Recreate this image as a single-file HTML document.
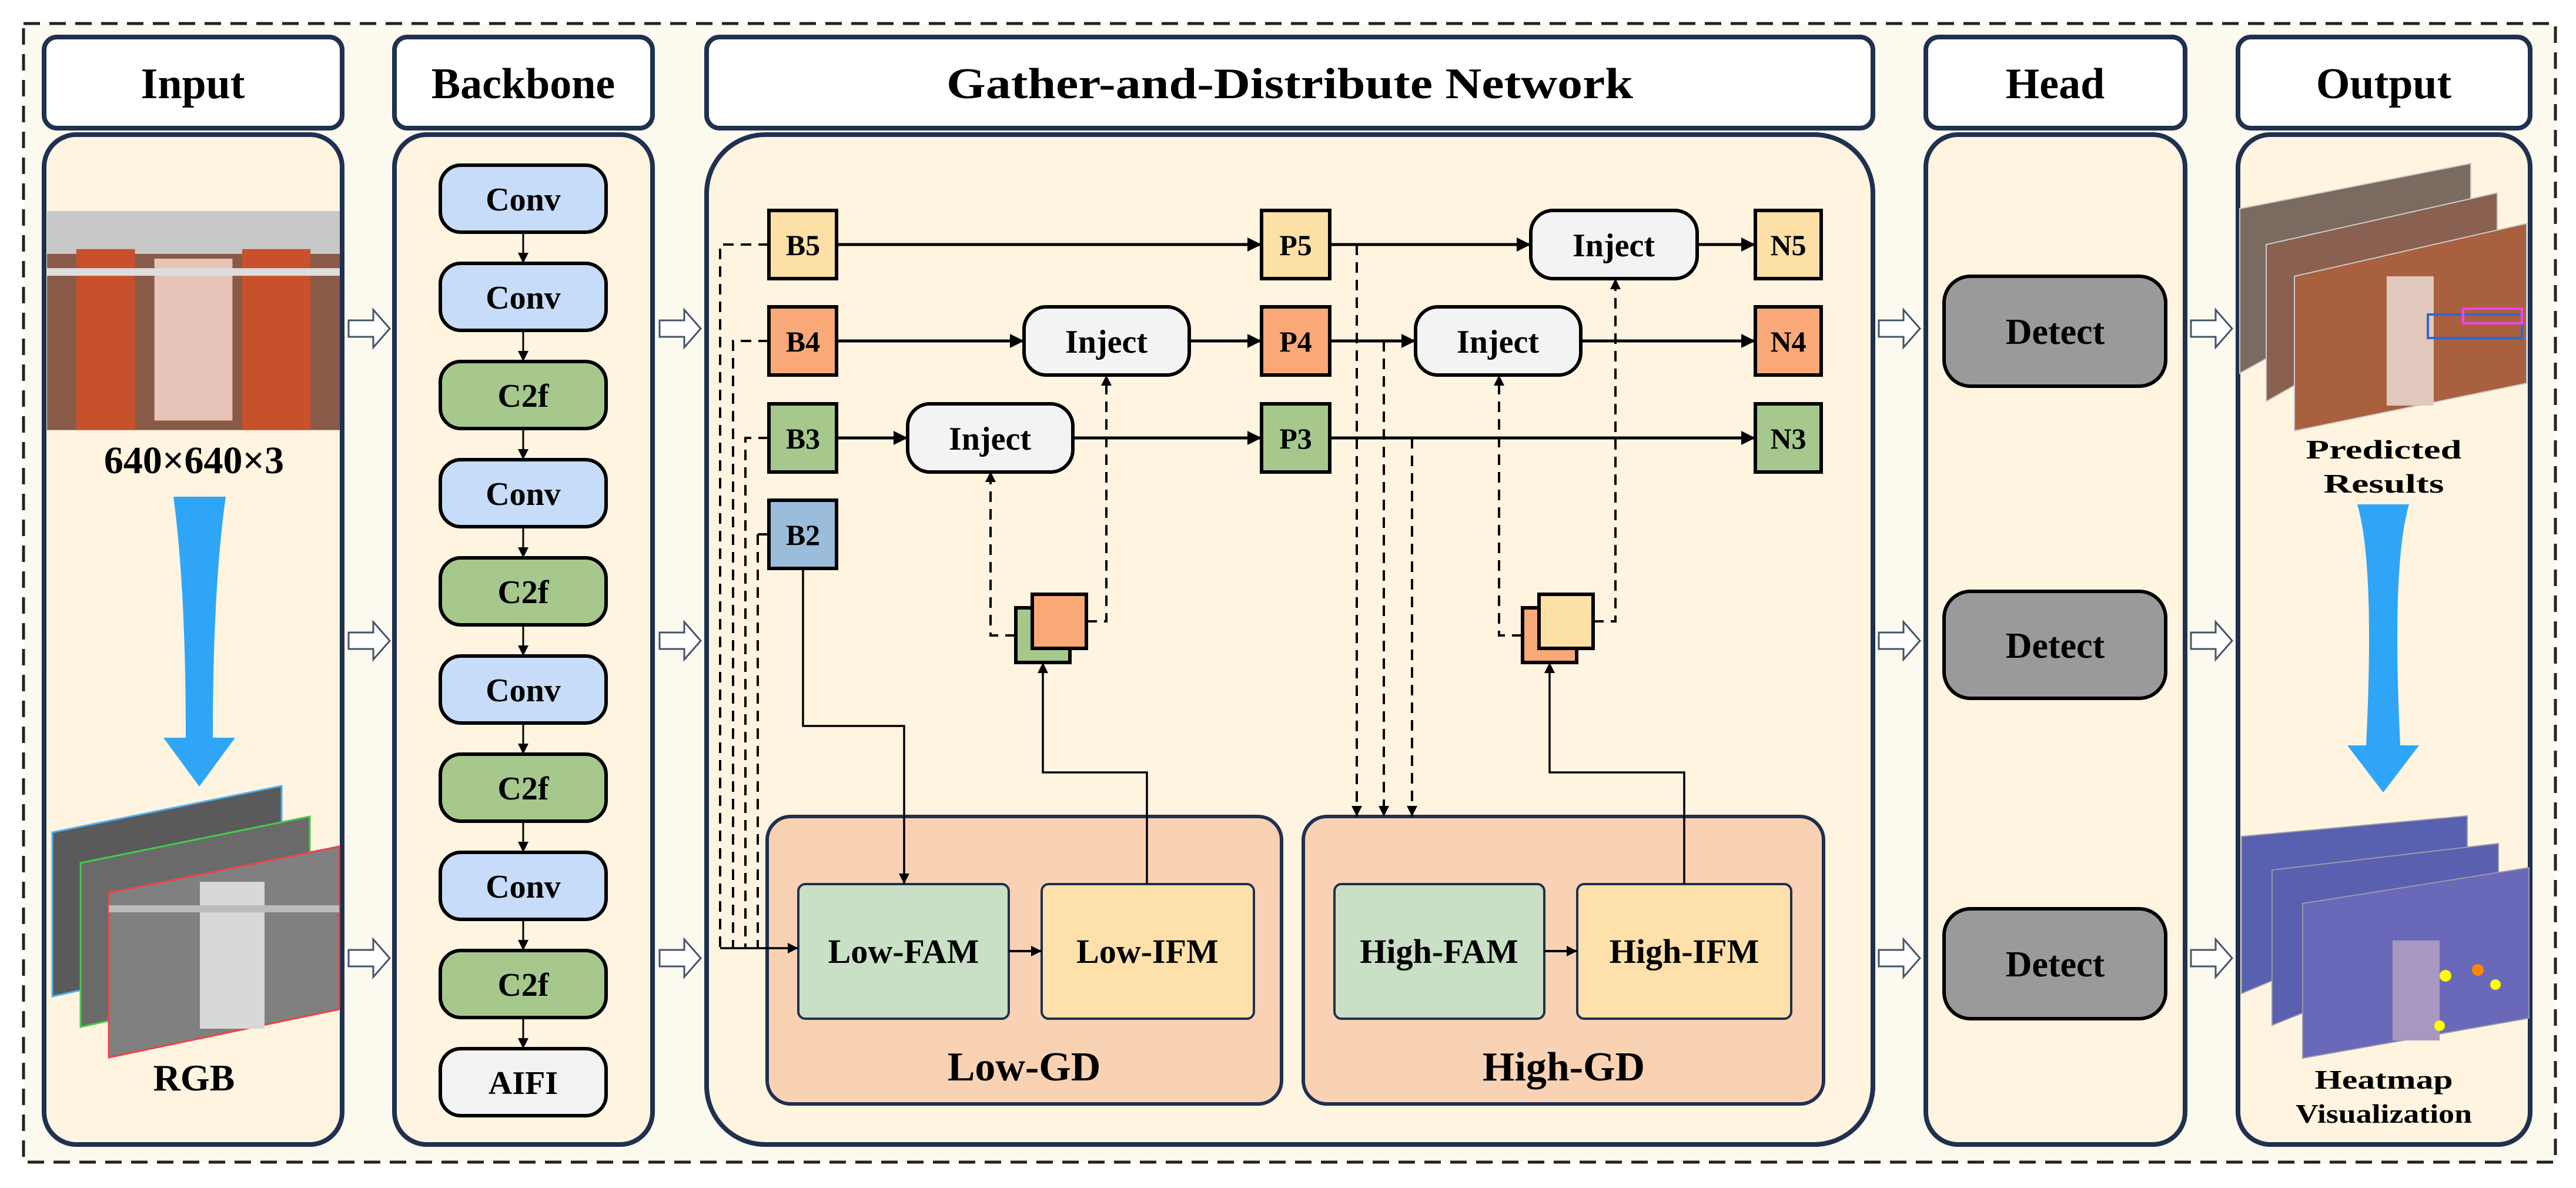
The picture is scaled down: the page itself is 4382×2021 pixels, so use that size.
<!DOCTYPE html>
<html><head><meta charset="utf-8">
<style>
html,body{margin:0;padding:0;background:#fff;}
svg{display:block;}
text{font-family:"Liberation Serif",serif;font-weight:bold;fill:#000;}
</style></head>
<body>
<svg width="4382" height="2021" viewBox="0 0 4382 2021" xmlns="http://www.w3.org/2000/svg">
<defs>
<marker id="ar" viewBox="0 0 10 10" refX="10" refY="5" markerWidth="24" markerHeight="24" markerUnits="userSpaceOnUse" orient="auto"><path d="M0,0 L10,5 L0,10 z" fill="#000"/></marker>
<marker id="ars" viewBox="0 0 10 10" refX="10" refY="5" markerWidth="18" markerHeight="18" markerUnits="userSpaceOnUse" orient="auto"><path d="M0,0 L10,5 L0,10 z" fill="#000"/></marker>
<g id="ha"><path d="M0,-14 L42,-14 L42,-32 L70,0 L42,32 L42,14 L0,14 Z" fill="#fff" stroke="#44546a" stroke-width="3"/></g>
<g id="pig">
<rect x="0" y="0" width="300" height="230" fill="#8a5a48"/>
<rect x="0" y="0" width="300" height="45" fill="#c8c8c8"/>
<rect x="30" y="40" width="60" height="190" fill="#c8502a"/>
<rect x="200" y="40" width="70" height="190" fill="#c8502a"/>
<rect x="110" y="50" width="80" height="170" fill="#e8c4b8"/>
<rect x="0" y="60" width="300" height="8" fill="#ddd"/>
</g>
</defs>

<rect x="0" y="0" width="4382" height="2021" fill="#fff"/>
<rect x="40" y="40" width="4307" height="1937" fill="#fcf9ee" stroke="#222" stroke-width="5" stroke-dasharray="28,16"/>

<g stroke="#1f3050" stroke-width="8" fill="#fff">
<rect x="75" y="63" width="507" height="155" rx="22"/>
<rect x="671" y="63" width="439" height="155" rx="22"/>
<rect x="1202" y="63" width="1984" height="155" rx="22"/>
<rect x="3276" y="63" width="441" height="155" rx="22"/>
<rect x="3807" y="63" width="497" height="155" rx="22"/>
</g>
<g font-size="74" text-anchor="middle">
<text x="328" y="167">Input</text>
<text x="890" y="167">Backbone</text>
<text x="2194" y="167" textLength="1168" lengthAdjust="spacingAndGlyphs">Gather-and-Distribute Network</text>
<text x="3496" y="167">Head</text>
<text x="4055" y="167">Output</text>
</g>
<g stroke="#1f3050" stroke-width="8" fill="#fef4e0">
<rect x="75" y="229" width="507" height="1718" rx="55"/>
<rect x="671" y="229" width="439" height="1718" rx="55"/>
<rect x="1202" y="229" width="1984" height="1718" rx="100"/>
<rect x="3276" y="229" width="441" height="1718" rx="55"/>
<rect x="3807" y="229" width="497" height="1718" rx="55"/>
</g>

<g>
<use href="#ha" x="593" y="559"/><use href="#ha" x="593" y="1090"/><use href="#ha" x="593" y="1630"/>
<use href="#ha" x="1122" y="559"/><use href="#ha" x="1122" y="1090"/><use href="#ha" x="1122" y="1630"/>
<use href="#ha" x="3196" y="559"/><use href="#ha" x="3196" y="1090"/><use href="#ha" x="3196" y="1630"/>
<use href="#ha" x="3727" y="559"/><use href="#ha" x="3727" y="1090"/><use href="#ha" x="3727" y="1630"/>
</g>

<!-- Input column -->
<g transform="translate(80,359) scale(1.66,1.62)"><use href="#pig"/></g>
<text x="330" y="805" font-size="66" text-anchor="middle">640×640×3</text>
<path d="M295,845 L384,845 Q362,1000 362,1255 L400,1255 L339,1338 L278,1255 L316,1255 Q316,1000 295,845 Z" fill="#2fa5f8"/>
<g stroke-width="3">
<polygon points="89,1416 479,1337 479,1610 89,1695" fill="#5a5a5a" stroke="#4ab0f0"/>
<polygon points="137,1468 527,1389 527,1662 137,1747" fill="#6a6a6a" stroke="#4c4"/>
<polygon points="185,1519 577,1440 577,1717 185,1799" fill="#808080" stroke="#e44"/>
</g>
<rect x="340" y="1500" width="110" height="250" fill="#d8d8d8"/>
<rect x="185" y="1540" width="392" height="12" fill="#bbb"/>
<text x="330" y="1855" font-size="64" text-anchor="middle">RGB</text>

<!-- Backbone -->
<g stroke="#000" stroke-width="3" marker-end="url(#ars)">
<line x1="890" y1="395" x2="890" y2="448"/><line x1="890" y1="562" x2="890" y2="615"/><line x1="890" y1="729" x2="890" y2="782"/>
<line x1="890" y1="896" x2="890" y2="949"/><line x1="890" y1="1063" x2="890" y2="1116"/><line x1="890" y1="1230" x2="890" y2="1283"/>
<line x1="890" y1="1397" x2="890" y2="1450"/><line x1="890" y1="1564" x2="890" y2="1617"/><line x1="890" y1="1731" x2="890" y2="1784"/>
</g>
<g stroke="#000" stroke-width="6">
<rect x="749" y="281" width="282" height="114" rx="35" fill="#c6dcf8"/>
<rect x="749" y="448" width="282" height="114" rx="35" fill="#c6dcf8"/>
<rect x="749" y="615" width="282" height="114" rx="35" fill="#a6c88c"/>
<rect x="749" y="782" width="282" height="114" rx="35" fill="#c6dcf8"/>
<rect x="749" y="949" width="282" height="114" rx="35" fill="#a6c88c"/>
<rect x="749" y="1116" width="282" height="114" rx="35" fill="#c6dcf8"/>
<rect x="749" y="1283" width="282" height="114" rx="35" fill="#a6c88c"/>
<rect x="749" y="1450" width="282" height="114" rx="35" fill="#c6dcf8"/>
<rect x="749" y="1617" width="282" height="114" rx="35" fill="#a6c88c"/>
<rect x="749" y="1784" width="282" height="114" rx="35" fill="#f2f2f2"/>
</g>
<g font-size="56" text-anchor="middle">
<text x="890" y="358">Conv</text><text x="890" y="525">Conv</text><text x="890" y="692">C2f</text>
<text x="890" y="859">Conv</text><text x="890" y="1026">C2f</text><text x="890" y="1193">Conv</text>
<text x="890" y="1360">C2f</text><text x="890" y="1527">Conv</text><text x="890" y="1694">C2f</text>
<text x="890" y="1861">AIFI</text>
</g>

<!-- GD boxes -->
<g stroke="#1f3050" stroke-width="6" fill="#f9d2b4">
<rect x="1305" y="1389" width="875" height="489" rx="40"/>
<rect x="2217" y="1389" width="885" height="489" rx="40"/>
</g>
<g stroke="#1f3050" stroke-width="4">
<rect x="1358" y="1504" width="358" height="229" rx="12" fill="#c9dfc6"/>
<rect x="1772" y="1504" width="361" height="229" rx="12" fill="#fde0aa"/>
<rect x="2270" y="1504" width="357" height="229" rx="12" fill="#c9dfc6"/>
<rect x="2683" y="1504" width="364" height="229" rx="12" fill="#fde0aa"/>
</g>
<g font-size="58" text-anchor="middle">
<text x="1537" y="1638">Low-FAM</text><text x="1952" y="1638">Low-IFM</text>
<text x="2448" y="1638">High-FAM</text><text x="2865" y="1638">High-IFM</text>
<text x="1742" y="1838" font-size="70">Low-GD</text><text x="2660" y="1838" font-size="70">High-GD</text>
</g>
<g stroke="#000" stroke-width="4" marker-end="url(#ars)" fill="none">
<line x1="1716" y1="1618" x2="1772" y2="1618"/>
<line x1="2627" y1="1618" x2="2683" y2="1618"/>
</g>

<g stroke="#000" stroke-width="5" fill="none" marker-end="url(#ar)">
<line x1="1423" y1="416" x2="2146" y2="416"/>
<line x1="2262" y1="416" x2="2604" y2="416"/>
<line x1="2887" y1="416" x2="2986" y2="416"/>
<line x1="1423" y1="580" x2="1742" y2="580"/>
<line x1="2023" y1="580" x2="2146" y2="580"/>
<line x1="2262" y1="580" x2="2408" y2="580"/>
<line x1="2689" y1="580" x2="2986" y2="580"/>
<line x1="1423" y1="745" x2="1544" y2="745"/>
<line x1="1825" y1="745" x2="2146" y2="745"/>
<line x1="2262" y1="745" x2="2986" y2="745"/>
</g>
<g stroke="#000" stroke-width="3.5" fill="none" marker-end="url(#ars)">
<polyline points="1366,967 1366,1235 1538,1235 1538,1504"/>
<polyline points="1951,1504 1951,1314 1774,1314 1774,1127"/>
<polyline points="2865,1504 2865,1314 2636,1314 2636,1127"/>
<line x1="1225" y1="1613" x2="1358" y2="1613"/>
</g>
<line x1="1289" y1="909" x2="1308" y2="909" stroke="#000" stroke-width="4"/>
<g stroke="#000" stroke-width="4" fill="none" stroke-dasharray="18,12">
<polyline points="1308,416 1225,416 1225,1613"/>
<polyline points="1308,580 1247,580 1247,1613"/>
<polyline points="1308,745 1268,745 1268,1613"/>
<polyline points="1289,909 1289,1613"/>
</g>
<g stroke="#000" stroke-width="4" fill="none" stroke-dasharray="18,12" marker-end="url(#ars)">
<line x1="2308" y1="416" x2="2308" y2="1389"/>
<line x1="2354" y1="580" x2="2354" y2="1389"/>
<line x1="2402" y1="745" x2="2402" y2="1389"/>
<polyline points="1728,1081 1685,1081 1685,802"/>
<polyline points="1848,1057 1882,1057 1882,638"/>
<polyline points="2590,1081 2550,1081 2550,638"/>
<polyline points="2710,1057 2748,1057 2748,474"/>
</g>

<g stroke="#000" stroke-width="6">
<rect x="1308" y="358" width="115" height="116" fill="#fde0a6"/>
<rect x="1308" y="522" width="115" height="116" fill="#f9a877"/>
<rect x="1308" y="687" width="115" height="116" fill="#a6c88c"/>
<rect x="1308" y="851" width="115" height="116" fill="#9bbcdb"/>
<rect x="2146" y="358" width="116" height="116" fill="#fde0a6"/>
<rect x="2146" y="522" width="116" height="116" fill="#f9a877"/>
<rect x="2146" y="687" width="116" height="116" fill="#a6c88c"/>
<rect x="2986" y="358" width="112" height="116" fill="#fde0a6"/>
<rect x="2986" y="522" width="112" height="116" fill="#f9a877"/>
<rect x="2986" y="687" width="112" height="116" fill="#a6c88c"/>
<rect x="1728" y="1034" width="92" height="93" fill="#a6c88c"/>
<rect x="1756" y="1011" width="92" height="92" fill="#f9a877"/>
<rect x="2590" y="1034" width="92" height="93" fill="#f9a877"/>
<rect x="2618" y="1011" width="92" height="92" fill="#fde0a6"/>
<rect x="1544" y="687" width="281" height="116" rx="38" fill="#f3f3f3"/>
<rect x="1742" y="522" width="281" height="116" rx="38" fill="#f3f3f3"/>
<rect x="2408" y="522" width="281" height="116" rx="38" fill="#f3f3f3"/>
<rect x="2604" y="358" width="283" height="116" rx="38" fill="#f3f3f3"/>
</g>
<g font-size="50" text-anchor="middle">
<text x="1366" y="434">B5</text><text x="1366" y="598">B4</text><text x="1366" y="763">B3</text><text x="1366" y="927">B2</text>
<text x="2204" y="434">P5</text><text x="2204" y="598">P4</text><text x="2204" y="763">P3</text>
<text x="3042" y="434">N5</text><text x="3042" y="598">N4</text><text x="3042" y="763">N3</text>
</g>
<g font-size="56" text-anchor="middle">
<text x="1684" y="765">Inject</text><text x="1882" y="600">Inject</text>
<text x="2548" y="600">Inject</text><text x="2745" y="436">Inject</text>
</g>

<!-- Head -->
<g stroke="#000" stroke-width="6" fill="#9a9a9a">
<rect x="3307" y="470" width="377" height="187" rx="45"/>
<rect x="3307" y="1006" width="377" height="182" rx="45"/>
<rect x="3307" y="1546" width="377" height="187" rx="45"/>
</g>
<g font-size="62" text-anchor="middle">
<text x="3496" y="585">Detect</text><text x="3496" y="1119">Detect</text><text x="3496" y="1661">Detect</text>
</g>

<!-- Output -->
<g stroke="#ccc" stroke-width="2">
<polygon points="3810,355 4203,278 4203,417 3810,635" fill="#7a6a60"/>
<polygon points="3855,416 4248,328 4248,460 3855,683" fill="#8a6050"/>
<polygon points="3903,470 4298,380 4298,652 3903,733" fill="#a8603e"/>
</g>
<rect x="3903" y="470" width="395" height="30" fill="#bbb" transform="skewY(-13) translate(0,900)" opacity="0"/>
<rect x="4060" y="470" width="80" height="220" fill="#e0c8bc"/>
<rect x="4130" y="535" width="160" height="40" fill="none" stroke="#36c" stroke-width="4"/>
<rect x="4190" y="525" width="100" height="25" fill="none" stroke="#e4e" stroke-width="4"/>
<text x="4055" y="780" font-size="46" text-anchor="middle" textLength="265" lengthAdjust="spacingAndGlyphs">Predicted</text>
<text x="4055" y="838" font-size="46" text-anchor="middle" textLength="205" lengthAdjust="spacingAndGlyphs">Results</text>
<path d="M4010,858 L4098,858 Q4068,960 4083,1268 L4115,1268 L4054,1348 L3993,1268 L4025,1268 Q4040,960 4010,858 Z" fill="#2fa5f8"/>
<g stroke="#99a" stroke-width="2">
<polygon points="3813,1423 4197,1388 4197,1530 3813,1690" fill="#5860b0"/>
<polygon points="3865,1480 4250,1435 4250,1590 3865,1744" fill="#5a5fb0"/>
<polygon points="3917,1537 4302,1476 4302,1732 3917,1800" fill="#6a68b8"/>
</g>
<rect x="4070" y="1600" width="80" height="170" fill="#a898c0"/>
<circle cx="4160" cy="1660" r="10" fill="#ff0"/><circle cx="4215" cy="1650" r="10" fill="#f80"/>
<circle cx="4245" cy="1675" r="9" fill="#ff0"/><circle cx="4150" cy="1745" r="9" fill="#ff0"/>
<text x="4055" y="1852" font-size="46" text-anchor="middle" textLength="235" lengthAdjust="spacingAndGlyphs">Heatmap</text>
<text x="4055" y="1910" font-size="46" text-anchor="middle" textLength="300" lengthAdjust="spacingAndGlyphs">Visualization</text>
</svg>
</body></html>
